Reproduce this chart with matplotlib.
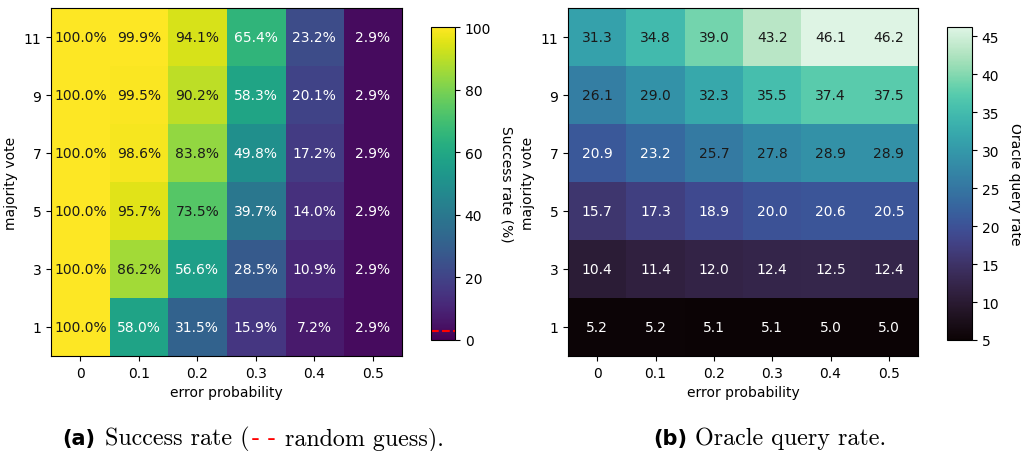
import numpy as np
import matplotlib
matplotlib.use("Agg")
import matplotlib.pyplot as plt
import seaborn as sns

error_probs = ["0", "0.1", "0.2", "0.3", "0.4", "0.5"]
majority_votes = ["11", "9", "7", "5", "3", "1"]

success_rate = np.array([
    [100.0, 99.9, 94.1, 65.4, 23.2, 2.9],
    [100.0, 99.5, 90.2, 58.3, 20.1, 2.9],
    [100.0, 98.6, 83.8, 49.8, 17.2, 2.9],
    [100.0, 95.7, 73.5, 39.7, 14.0, 2.9],
    [100.0, 86.2, 56.6, 28.5, 10.9, 2.9],
    [100.0, 58.0, 31.5, 15.9, 7.2, 2.9],
])
oracle_rate = np.array([
    [31.3, 34.8, 39.0, 43.2, 46.1, 46.2],
    [26.1, 29.0, 32.3, 35.5, 37.4, 37.5],
    [20.9, 23.2, 25.7, 27.8, 28.9, 28.9],
    [15.7, 17.3, 18.9, 20.0, 20.6, 20.5],
    [10.4, 11.4, 12.0, 12.4, 12.5, 12.4],
    [5.2, 5.2, 5.1, 5.1, 5.0, 5.0],
])
random_guess = 2.9

W, H = 1021, 452
fig = plt.figure(figsize=(W / 100, H / 100), dpi=100)


def rect(x0, y0, x1, y1):
    return [x0 / W, 1 - y1 / H, (x1 - x0) / W, (y1 - y0) / H]


def heat(ax, cax, data, cmap, vmin, vmax, fmt, dark_above, cticks, clabel):
    im = ax.imshow(data, cmap=cmap, vmin=vmin, vmax=vmax, aspect="auto",
                   interpolation="nearest")
    for i in range(data.shape[0]):
        for j in range(data.shape[1]):
            tc = "0.1" if data[i, j] > dark_above else "white"
            ax.text(j, i, fmt.format(data[i, j]), ha="center", va="center",
                    color=tc, fontsize=10)
    ax.set_xticks(range(len(error_probs)))
    ax.set_xticklabels(error_probs, fontsize=10)
    ax.set_yticks(range(len(majority_votes)))
    ax.set_yticklabels(majority_votes, fontsize=10)
    ax.set_xlabel("error probability", fontsize=10)
    ax.set_ylabel("majority vote", fontsize=10)
    cb = fig.colorbar(im, cax=cax, ticks=cticks)
    cb.ax.tick_params(labelsize=10)
    cb.set_label(clabel, rotation=270, labelpad=16, fontsize=10)
    return cb


ax1 = fig.add_axes(rect(51, 9, 402, 357))
cax1 = fig.add_axes(rect(431, 28, 455, 341))
ax2 = fig.add_axes(rect(568, 9, 918, 357))
cax2 = fig.add_axes(rect(947, 28, 972, 341))

cb1 = heat(ax1, cax1, success_rate, plt.get_cmap("viridis"), 0, 100,
           "{:.1f}%", 70, [0, 20, 40, 60, 80, 100], "Success rate (%)")
cb1.ax.axhline(random_guess, color="red", linestyle="--", linewidth=1.5)

mako = sns.color_palette("mako", as_cmap=True)
vmin2, vmax2 = oracle_rate.min(), oracle_rate.max()
heat(ax2, cax2, oracle_rate, mako, vmin2, vmax2,
     "{:.1f}", (vmin2 + vmax2) / 2, [5, 10, 15, 20, 25, 30, 35, 40, 45],
     "Oracle query rate")

# captions
yb = 1 - 445 / H
serif = dict(family="cmr10", fontsize=17.3, va="baseline", ha="left")
bold = dict(family="DejaVu Sans", weight="bold", fontsize=15,
            va="baseline", ha="left")
fig.text(62 / W, yb, "(a)", **bold)
fig.text(105 / W, yb, "Success rate (", **serif)
fig.text(252 / W, yb, "- -", color="red", **serif)
fig.text(285 / W, yb, "random guess).", **serif)
fig.text(653 / W, yb, "(b)", **bold)
fig.text(695 / W, yb, "Oracle query rate.", **serif)

fig.savefig("out.png", dpi=100)
